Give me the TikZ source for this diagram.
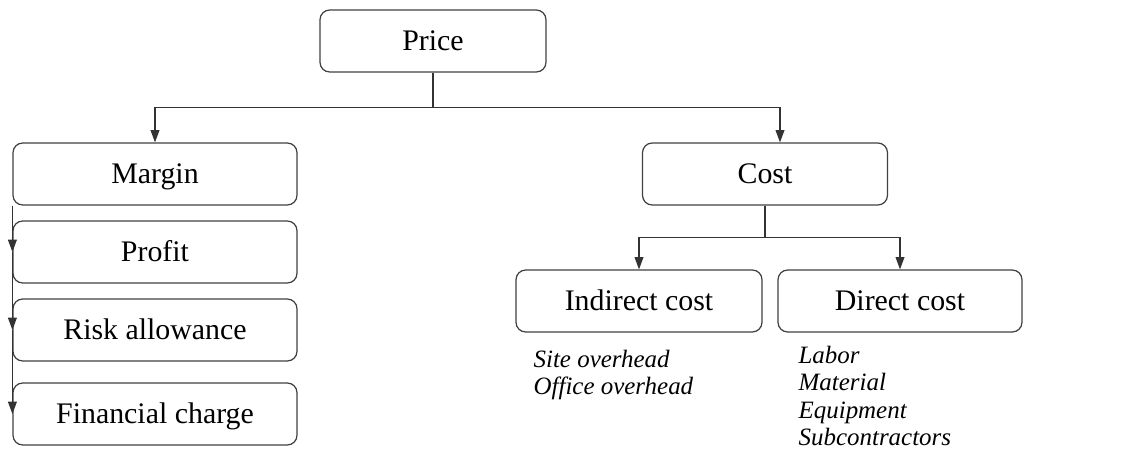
\documentclass[tikz,border=0pt]{standalone}
\usepackage{fontspec}
\setmainfont{Liberation Serif}
\usetikzlibrary{arrows.meta}

\begin{document}
\begin{tikzpicture}[x=0.02cm, y=-0.02cm, >={Triangle[length=7pt,width=5pt]},
    line width=0.7pt, draw=black!80,
    box/.style={draw=black!75, rounded corners=5.5pt, minimum height=1.24cm, inner sep=0pt,
        text height=11.3pt, text depth=0pt, font=\fontsize{17}{20}\selectfont},
    note/.style={anchor=north west, align=left, inner sep=0pt, font=\fontsize{14.2}{15.4}\selectfont\itshape}]
\useasboundingbox (0,0) rectangle (1125,460);

\node[box, minimum width=4.52cm] (price) at (433,41) {Price};

\node[box, minimum width=5.68cm] (margin) at (155,174) {Margin};
\node[box, minimum width=5.68cm] (profit) at (155,252) {Profit};
\node[box, minimum width=5.68cm] (risk) at (155,330) {Risk allowance};
\node[box, minimum width=5.68cm] (financial) at (155,414) {Financial charge};

\node[box, minimum width=4.9cm] (cost) at (765,174) {Cost};
\node[box, minimum width=4.92cm] (indirect) at (639,301) {Indirect cost};
\node[box, minimum width=4.88cm] (direct) at (900,301) {Direct cost};

\node[note] (indnote) at (533,350) {Site overhead\\Office overhead};
\node[note] (dirnote) at (798,346) {Labor\\Material\\Equipment\\Subcontractors};

\draw[->] (price.south) -- ++(0,35) -| (margin.north);
\draw[->] (price.south) -- ++(0,35) -| ([xshift=0.3cm]cost.north);
\draw[->] (cost.south) -- ++(0,32) -| (indirect.north);
\draw[->] (cost.south) -- ++(0,32) -| (direct.north);

\draw[->] (margin.south west) -- (profit.west);
\draw[->] (profit.west) -- (risk.west);
\draw[->] (risk.west) -- (financial.west);

\end{tikzpicture}
\end{document}
